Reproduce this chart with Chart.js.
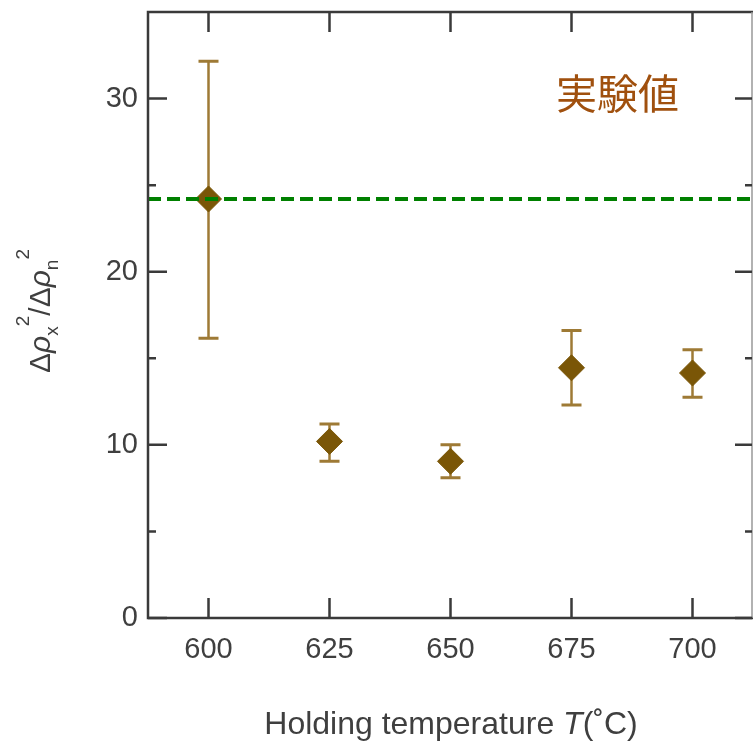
<!DOCTYPE html>
<html>
<head>
<meta charset="utf-8">
<script src="https://cdn.jsdelivr.net/npm/chart.js@4/dist/chart.umd.min.js"></script>
<style>
html, body { margin: 0; padding: 0; background: #fff; }
</style>
</head>
<body>
<canvas id="c" width="753" height="741"></canvas>
<script>
// values
const temps = [600, 625, 650, 675, 700];
const ratio = [24.2, 10.2, 9.05, 14.45, 14.15];
const errLow = [16.15, 9.05, 8.1, 12.3, 12.75];
const errHigh = [32.15, 11.2, 10.0, 16.6, 15.5];
const refLevel = 24.2;
const xTicks = [600, 625, 650, 675, 700];
const yTicks = [0, 10, 20, 30];
const yMinor = [5, 15, 25];
const xRange = [587.5, 712.5];
const yRange = [0, 35];
const noteText = '実験値';
const notePos = [684.5, 30.3];

const axisColor = '#3a3a3a';
const textColor = '#3f3f3f';
const markColor = '#7a5607';
const barColor = '#9e7a35';

// error bars, behind the diamonds
const errorBars = {
    id: 'errorBars',
    beforeDatasetsDraw(chart) {
        const xs = chart.scales.x, ys = chart.scales.y;
        const ctx = chart.ctx;
        ctx.save();
        ctx.strokeStyle = barColor;
        for (let i = 0; i < temps.length; i++) {
            const px = xs.getPixelForValue(temps[i]);
            const top = ys.getPixelForValue(errHigh[i]);
            const bot = ys.getPixelForValue(errLow[i]);
            ctx.lineWidth = 2.5;
            ctx.beginPath();
            ctx.moveTo(px, top);
            ctx.lineTo(px, bot);
            ctx.stroke();
            ctx.lineWidth = 3;
            ctx.beginPath();
            ctx.moveTo(px - 10, top); ctx.lineTo(px + 10, top);
            ctx.moveTo(px - 10, bot); ctx.lineTo(px + 10, bot);
            ctx.stroke();
        }
        ctx.restore();
    }
};

// frame, inward ticks, titles and the note
const frame = {
    id: 'frame',
    afterDraw(chart) {
        const {left, right, top, bottom} = chart.chartArea;
        const xs = chart.scales.x, ys = chart.scales.y;
        const ctx = chart.ctx;
        ctx.save();
        ctx.strokeStyle = axisColor;
        ctx.lineWidth = 2.5;
        ctx.beginPath();
        ctx.moveTo(right, top); ctx.lineTo(left, top);
        ctx.lineTo(left, bottom); ctx.lineTo(right, bottom);
        ctx.stroke();
        ctx.strokeStyle = '#999';
        ctx.lineWidth = 1.5;
        ctx.beginPath();
        ctx.moveTo(right - 1, top); ctx.lineTo(right - 1, bottom);
        ctx.stroke();

        ctx.strokeStyle = axisColor;
        ctx.lineWidth = 2.5;
        ctx.beginPath();
        xTicks.forEach(v => {
            const px = xs.getPixelForValue(v);
            ctx.moveTo(px, bottom); ctx.lineTo(px, bottom - 20);
            ctx.moveTo(px, top); ctx.lineTo(px, top + 20);
        });
        yTicks.forEach(v => {
            const py = ys.getPixelForValue(v);
            ctx.moveTo(left, py); ctx.lineTo(left + 19, py);
            ctx.moveTo(right - 1, py); ctx.lineTo(right - 18, py);
        });
        yMinor.forEach(v => {
            const py = ys.getPixelForValue(v);
            ctx.moveTo(left, py); ctx.lineTo(left + 8, py);
            ctx.moveTo(right - 1, py); ctx.lineTo(right - 8, py);
        });
        ctx.stroke();

        // x title, italic T
        ctx.fillStyle = textColor;
        ctx.textBaseline = 'alphabetic';
        const f1 = '32px "Liberation Sans", Arial, sans-serif';
        const f2 = 'italic 32px "Liberation Sans", Arial, sans-serif';
        const parts = [['Holding temperature ', f1], ['T', f2], ['(˚C)', f1]];
        let w = 0;
        parts.forEach(p => { ctx.font = p[1]; w += ctx.measureText(p[0]).width; });
        let cx = 451 - w / 2;
        parts.forEach(p => {
            ctx.font = p[1];
            ctx.fillText(p[0], cx, 734);
            cx += ctx.measureText(p[0]).width;
        });

        // y title: Δρx²/Δρn²
        const big = '30px "Liberation Sans", Arial, sans-serif';
        const bigI = 'italic 30px "Liberation Sans", Arial, sans-serif';
        const small = '19px "Liberation Sans", Arial, sans-serif';
        const yParts = [
            ['Δ', big, 0], ['ρ', bigI, 0], ['x', small, 8], ['2', small, -21],
            ['/', big, 0], ['Δ', big, 0], ['ρ', bigI, 0], ['n', small, 8], ['2', small, -21]
        ];
        let tw = 0;
        yParts.forEach(p => { ctx.font = p[1]; tw += ctx.measureText(p[0]).width; });
        ctx.translate(50, 311);
        ctx.rotate(-Math.PI / 2);
        let tx = -tw / 2;
        yParts.forEach(p => {
            ctx.font = p[1];
            ctx.fillText(p[0], tx, p[2]);
            tx += ctx.measureText(p[0]).width;
        });
        ctx.setTransform(1, 0, 0, 1, 0, 0);

        // note
        ctx.fillStyle = '#a0500e';
        ctx.font = '41px "Noto Sans CJK JP", sans-serif';
        ctx.textAlign = 'center';
        ctx.textBaseline = 'middle';
        ctx.fillText(noteText, xs.getPixelForValue(notePos[0]), ys.getPixelForValue(notePos[1]));
        ctx.restore();
    }
};

const tickFont = { family: '"Liberation Sans", Arial, sans-serif', size: 29 };

new Chart(document.getElementById('c'), {
    type: 'scatter',
    data: {
        datasets: [{
            type: 'line',
            data: [{x: xRange[0], y: refLevel}, {x: xRange[1], y: refLevel}],
            borderColor: '#008000',
            borderWidth: 4,
            borderDash: [13, 6],
            pointRadius: 0,
            order: 0
        }, {
            data: temps.map((t, i) => ({x: t, y: ratio[i]})),
            pointStyle: 'rectRot',
            pointRadius: 13,
            backgroundColor: markColor,
            borderColor: markColor,
            borderWidth: 1,
            order: 1
        }]
    },
    options: {
        responsive: false,
        animation: false,
        layout: { autoPadding: false, padding: { top: 12, right: 0, left: 0, bottom: 0 } },
        plugins: { legend: { display: false }, tooltip: { enabled: false } },
        scales: {
            x: {
                type: 'linear',
                min: xRange[0],
                max: xRange[1],
                afterBuildTicks: s => { s.ticks = xTicks.map(v => ({value: v})); },
                afterFit: s => { s.height = 123; s.paddingLeft = 0; s.paddingRight = 0; },
                grid: { display: false, drawTicks: false },
                border: { display: false },
                ticks: { font: tickFont, color: textColor, padding: 15, maxRotation: 0 }
            },
            y: {
                min: yRange[0],
                max: yRange[1],
                afterBuildTicks: s => { s.ticks = yTicks.map(v => ({value: v})); },
                afterFit: s => { s.width = 148; s.paddingTop = 0; s.paddingBottom = 0; },
                grid: { display: false, drawTicks: false },
                border: { display: false },
                ticks: { font: tickFont, color: textColor, padding: 10 }
            }
        }
    },
    plugins: [errorBars, frame]
});
</script>
</body>
</html>
